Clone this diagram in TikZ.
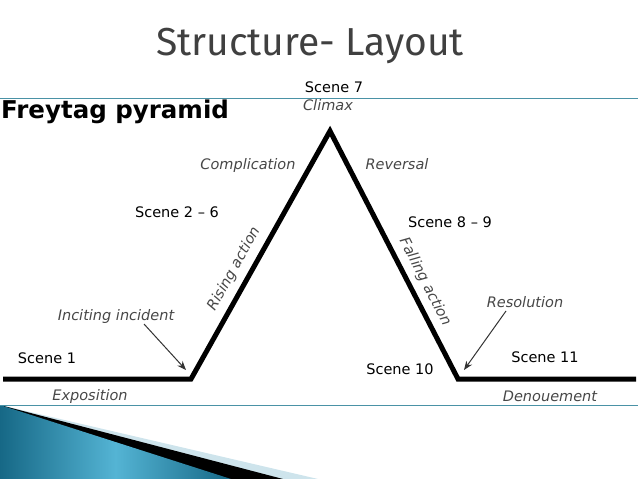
\documentclass[tikz,border=0pt]{standalone}
\usepackage{fontspec}
\setmainfont{DejaVu Sans}
\newfontfamily\titlefont{Fira Sans}
\usetikzlibrary{arrows.meta}
\tikzset{>=stealth}
\definecolor{slideteal}{RGB}{74,146,166}
\definecolor{tealdark}{RGB}{22,104,134}
\definecolor{teallight}{RGB}{84,180,212}
\definecolor{paleblue}{RGB}{206,228,236}

\begin{document}
\begin{tikzpicture}[x=1pt,y=-1pt,
    scene/.style={anchor=base,font=\fontsize{14.5}{17}\selectfont},
    phase/.style={anchor=base,text=black!72,font=\fontsize{14.5}{17}\selectfont\itshape},
    pyramid/.style={line width=5pt,line join=miter},
    pointer/.style={-{Stealth[length=9pt,width=7pt]},line width=1pt,black!80}]

    \useasboundingbox (0,0) rectangle (638,479);

    % slide decoration
    \fill[paleblue] (0,405)--(318,479)--(0,479)--cycle;
    \fill[black] (0,405)--(283,479)--(0,479)--cycle;
    \shade[left color=tealdark,right color=tealdark,middle color=teallight] (0,405)--(231,479)--(0,479)--cycle;
    \draw[slideteal,line width=1pt] (0,98)--(638,98);
    \draw[slideteal,line width=1pt] (0,405.5)--(638,405.5);

    \node[anchor=base,text=black!75,font=\titlefont\fontsize{39}{46}\selectfont] at (310,56) (title) {Structure- Layout};
    \node[anchor=base west,font=\fontsize{24.5}{28}\selectfont\bfseries,inner sep=1pt] at (0,118) (freytag) {Freytag pyramid};

    \coordinate (start) at (3,379);
    \coordinate (incite) at (191,379);
    \coordinate (climax) at (330,131);
    \coordinate (resolve) at (458,379);
    \coordinate (end) at (636,379);
    \draw[pyramid] (start)--(incite)--(climax)--(resolve)--(end);

    \node[phase] at (328,110) (climaxlab) {Climax};
    \node[phase] at (248,169) (complication) {Complication};
    \node[phase] at (397,169) (reversal) {Reversal};
    \node[phase,anchor=center,rotate=61,inner sep=0pt] at (234,269) (rising) {Rising action};
    \node[phase,anchor=center,rotate=-63,inner sep=0pt] at (425,282) (falling) {Falling action};
    \node[phase] at (116,320) (inciting) {Inciting incident};
    \node[phase] at (525,307) (resolution) {Resolution};
    \node[phase] at (90,400) (exposition) {Exposition};
    \node[phase] at (550,401) (denouement) {Denouement};

    \coordinate (incfrom) at (144,324);
    \coordinate (incto) at (186,370);
    \coordinate (resfrom) at (506,311);
    \coordinate (resto) at (464,370);
    \draw[pointer] (incfrom)--(incto);
    \draw[pointer] (resfrom)--(resto);

    \node[scene] at (334,92) (s7) {Scene 7};
    \node[scene] at (177,217) (s26) {Scene 2 – 6};
    \node[scene] at (450,227) (s89) {Scene 8 – 9};
    \node[scene] at (47,363) (s1) {Scene 1};
    \node[scene] at (400,374) (s10) {Scene 10};
    \node[scene] at (545,362) (s11) {Scene 11};
\end{tikzpicture}
\end{document}
